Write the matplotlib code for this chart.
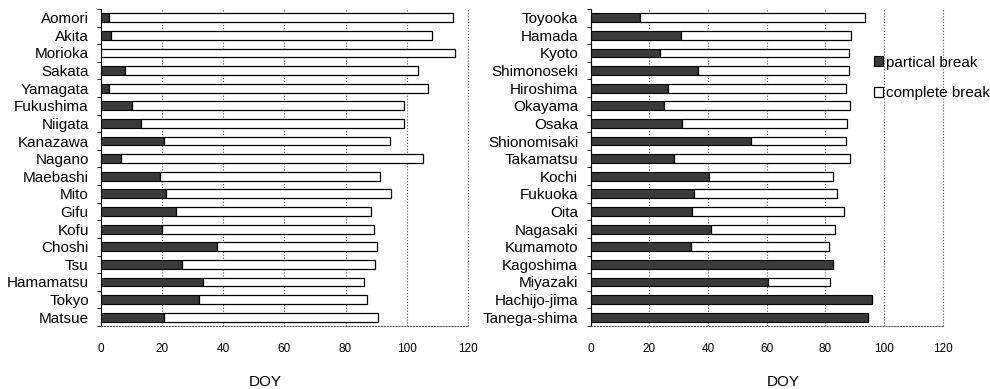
import matplotlib.pyplot as plt
import numpy as np

plt.rcParams['font.family'] = ['Liberation Sans', 'DejaVu Sans']

# --- data (DOY) ---
left_sites = ["Aomori", "Akita", "Morioka", "Sakata", "Yamagata", "Fukushima",
              "Niigata", "Kanazawa", "Nagano", "Maebashi", "Mito", "Gifu",
              "Kofu", "Choshi", "Tsu", "Hamamatsu", "Tokyo", "Matsue"]
left_partial = [2.4, 3.2, 0, 7.9, 2.6, 10.1, 13.1, 20.5, 6.5, 19.1, 21.2, 24.4,
                20.0, 37.9, 26.4, 33.2, 32.1, 20.5]
left_complete = [115.2, 108.4, 116.0, 103.6, 107.0, 99.1, 99.1, 94.6, 105.5, 91.4,
                 94.9, 88.3, 89.2, 90.2, 89.5, 86.1, 87.1, 90.6]

right_sites = ["Toyooka", "Hamada", "Kyoto", "Shimonoseki", "Hiroshima", "Okayama",
               "Osaka", "Shionomisaki", "Takamatsu", "Kochi", "Fukuoka", "Oita",
               "Nagasaki", "Kumamoto", "Kagoshima", "Miyazaki", "Hachijo-jima",
               "Tanega-shima"]
right_partial = [16.9, 30.9, 23.5, 36.6, 26.2, 24.9, 31.2, 54.5, 28.5, 40.2, 35.3,
                 34.6, 40.9, 34.3, 82.6, 60.3, 95.8, 94.5]
right_complete = [93.5, 88.9, 88.2, 88.2, 86.9, 88.3, 87.3, 86.9, 88.5, 82.7, 83.9,
                  86.3, 83.3, 81.1, 82.6, 81.5, 95.8, 94.5]

xticks = [0, 20, 40, 60, 80, 100, 120]

fig = plt.figure(figsize=(9.9, 3.89), dpi=100)
ax1 = fig.add_axes([0.1023, 0.162, 0.3701, 0.815])
ax2 = fig.add_axes([0.5967, 0.162, 0.3555, 0.815])


def draw(ax, sites, partial, complete):
    n = len(sites)
    y = np.arange(n)[::-1]
    partial = np.array(partial)
    rest = np.array(complete) - partial
    ax.barh(y, partial, height=0.5, color='#3a3a3a', edgecolor='black',
            linewidth=0.8, label='partical break', zorder=3)
    ax.barh(y, rest, left=partial, height=0.5, color='white', edgecolor='black',
            linewidth=0.9, label='complete break', zorder=3)
    ax.set_ylim(-0.5, n - 0.5)
    ax.set_xlim(0, 120)
    ax.set_xticks(xticks)
    ax.set_xticklabels([str(t) for t in xticks], fontsize=8.5)
    ax.set_yticks(y)
    ax.set_yticklabels(sites, fontsize=11)
    ax.set_yticks(np.arange(n + 1) - 0.5, minor=True)
    ax.tick_params(axis='y', which='major', length=0, pad=9)
    ax.tick_params(axis='y', which='minor', length=3, width=0.6, direction='out')
    ax.tick_params(axis='x', length=0, pad=12)
    ax.grid(axis='x', linestyle=':', color='#555555', linewidth=0.8, zorder=0)
    ax.spines['top'].set_visible(False)
    ax.spines['right'].set_visible(False)
    ax.spines['bottom'].set_linestyle(':')
    ax.spines['bottom'].set_color('#555555')
    ax.spines['left'].set_linewidth(0.8)
    # last dotted grid line at 120 also visible
    ax.axvline(120, linestyle=':', color='#555555', linewidth=0.8, zorder=0,
               clip_on=False)


draw(ax1, left_sites, left_partial, left_complete)
draw(ax2, right_sites, right_partial, right_complete)

fig.text(0.268, 0.019, "DOY", fontsize=11, ha='center', va='center')
fig.text(0.791, 0.019, "DOY", fontsize=11, ha='center', va='center')

ax2.legend(loc='upper left', bbox_to_anchor=(0.883, 0.857),
           bbox_transform=fig.transFigure, frameon=False, fontsize=11,
           handlelength=0.6, handleheight=0.6, handletextpad=0.15,
           labelspacing=1.1, borderaxespad=0, borderpad=0)

plt.savefig("out.png", dpi=100)
